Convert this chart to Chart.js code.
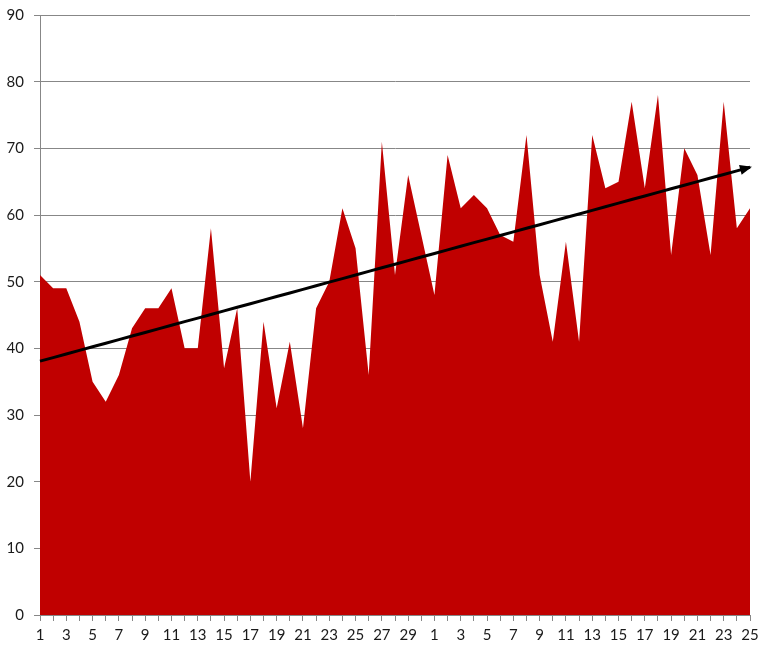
<!DOCTYPE html>
<html>
<head>
<meta charset="utf-8">
<script src="https://cdn.jsdelivr.net/npm/chart.js@4/dist/chart.umd.min.js"></script>
<style>
  html, body { margin: 0; padding: 0; background: #fff; }
  #wrap { width: 772px; height: 653px; }
</style>
</head>
<body>
<div id="wrap"><canvas id="chart" width="772" height="653"></canvas></div>
<script>
// day labels: 30 days of one month, then 25 of the next
const dayLabels = [
  '1','2','3','4','5','6','7','8','9','10','11','12','13','14','15',
  '16','17','18','19','20','21','22','23','24','25','26','27','28','29','30',
  '1','2','3','4','5','6','7','8','9','10','11','12','13',
  '14','15','16','17','18','19','20','21','22','23','24','25'
];

const dailyValues = [
  51, 49, 49, 44, 35, 32, 36, 43, 46, 46,
  49, 40, 40, 58, 37, 46, 20, 44, 31, 41,
  28, 46, 50, 61, 55, 36, 71, 51, 66, 57,
  48, 69, 61, 63, 61, 57, 56, 72, 51, 41,
  56, 41, 72, 64, 65, 77, 64, 78, 54, 70,
  66, 54, 77, 58, 61
];

const yTicks = [0, 10, 20, 30, 40, 50, 60, 70, 80, 90];

// linear trendline (least squares) over the daily values
function buildTrend(values) {
  const n = values.length;
  let sx = 0, sy = 0, sxy = 0, sxx = 0;
  values.forEach((v, i) => {
    sx += i; sy += v; sxy += i * v; sxx += i * i;
  });
  const slope = (n * sxy - sx * sy) / (n * sxx - sx * sx);
  const intercept = (sy - slope * sx) / n;
  return values.map((_, i) => intercept + slope * i);
}
const trendValues = buildTrend(dailyValues);

const gridColor = '#878787';
const textColor = '#1a1a1a';

const arrowHead = {
  id: 'arrowHead',
  afterDatasetsDraw(chart) {
    const meta = chart.getDatasetMeta(1);
    const pts = meta.data;
    if (!pts || pts.length < 2) return;
    const a = pts[pts.length - 2];
    const b = pts[pts.length - 1];
    const ang = Math.atan2(b.y - a.y, b.x - a.x);
    const len = 12, half = 5;
    const ctx = chart.ctx;
    ctx.save();
    ctx.fillStyle = '#000';
    ctx.translate(b.x, b.y);
    ctx.rotate(ang);
    ctx.beginPath();
    ctx.moveTo(2, 0);
    ctx.lineTo(2 - len, -half);
    ctx.lineTo(2 - len, half);
    ctx.closePath();
    ctx.fill();
    ctx.restore();
  }
};

new Chart(document.getElementById('chart').getContext('2d'), {
  type: 'line',
  data: {
    labels: dayLabels,
    datasets: [
      {
        data: dailyValues,
        backgroundColor: '#C00000',
        borderColor: '#C00000',
        borderWidth: 0,
        fill: 'origin',
        tension: 0,
        pointRadius: 0,
        order: 2
      },
      {
        data: trendValues,
        borderColor: '#000',
        borderWidth: 3,
        fill: false,
        tension: 0,
        pointRadius: 0,
        clip: false,
        order: 1
      }
    ]
  },
  options: {
    responsive: false,
    animation: false,
    events: [],
    layout: { padding: { top: 15, right: 22, left: 0, bottom: 0 } },
    plugins: {
      legend: { display: false },
      tooltip: { enabled: false }
    },
    scales: {
      x: {
        offset: false,
        grid: {
          display: true,
          drawOnChartArea: false,
          drawTicks: true,
          tickLength: 6,
          color: gridColor
        },
        border: { color: gridColor, width: 1 },
        ticks: {
          autoSkip: false,
          maxRotation: 0,
          minRotation: 0,
          padding: 5,
          color: textColor,
          font: { family: 'Lato', size: 15 },
          callback: (v, i) => (i % 2 === 0 ? dayLabels[i] : '')
        },
        afterFit: (s) => { s.height = 38; }
      },
      y: {
        min: 0,
        max: 90,
        grid: {
          color: gridColor,
          tickLength: 6,
          lineWidth: 1
        },
        border: { color: gridColor, width: 1 },
        afterBuildTicks: (s) => { s.ticks = yTicks.map(v => ({ value: v })); },
        ticks: {
          padding: 10,
          color: textColor,
          font: { family: 'Lato', size: 15 }
        },
        afterFit: (s) => { s.width = 40; s.paddingTop = 0; s.paddingBottom = 0; }
      }
    }
  },
  plugins: [arrowHead]
});
</script>
</body>
</html>
